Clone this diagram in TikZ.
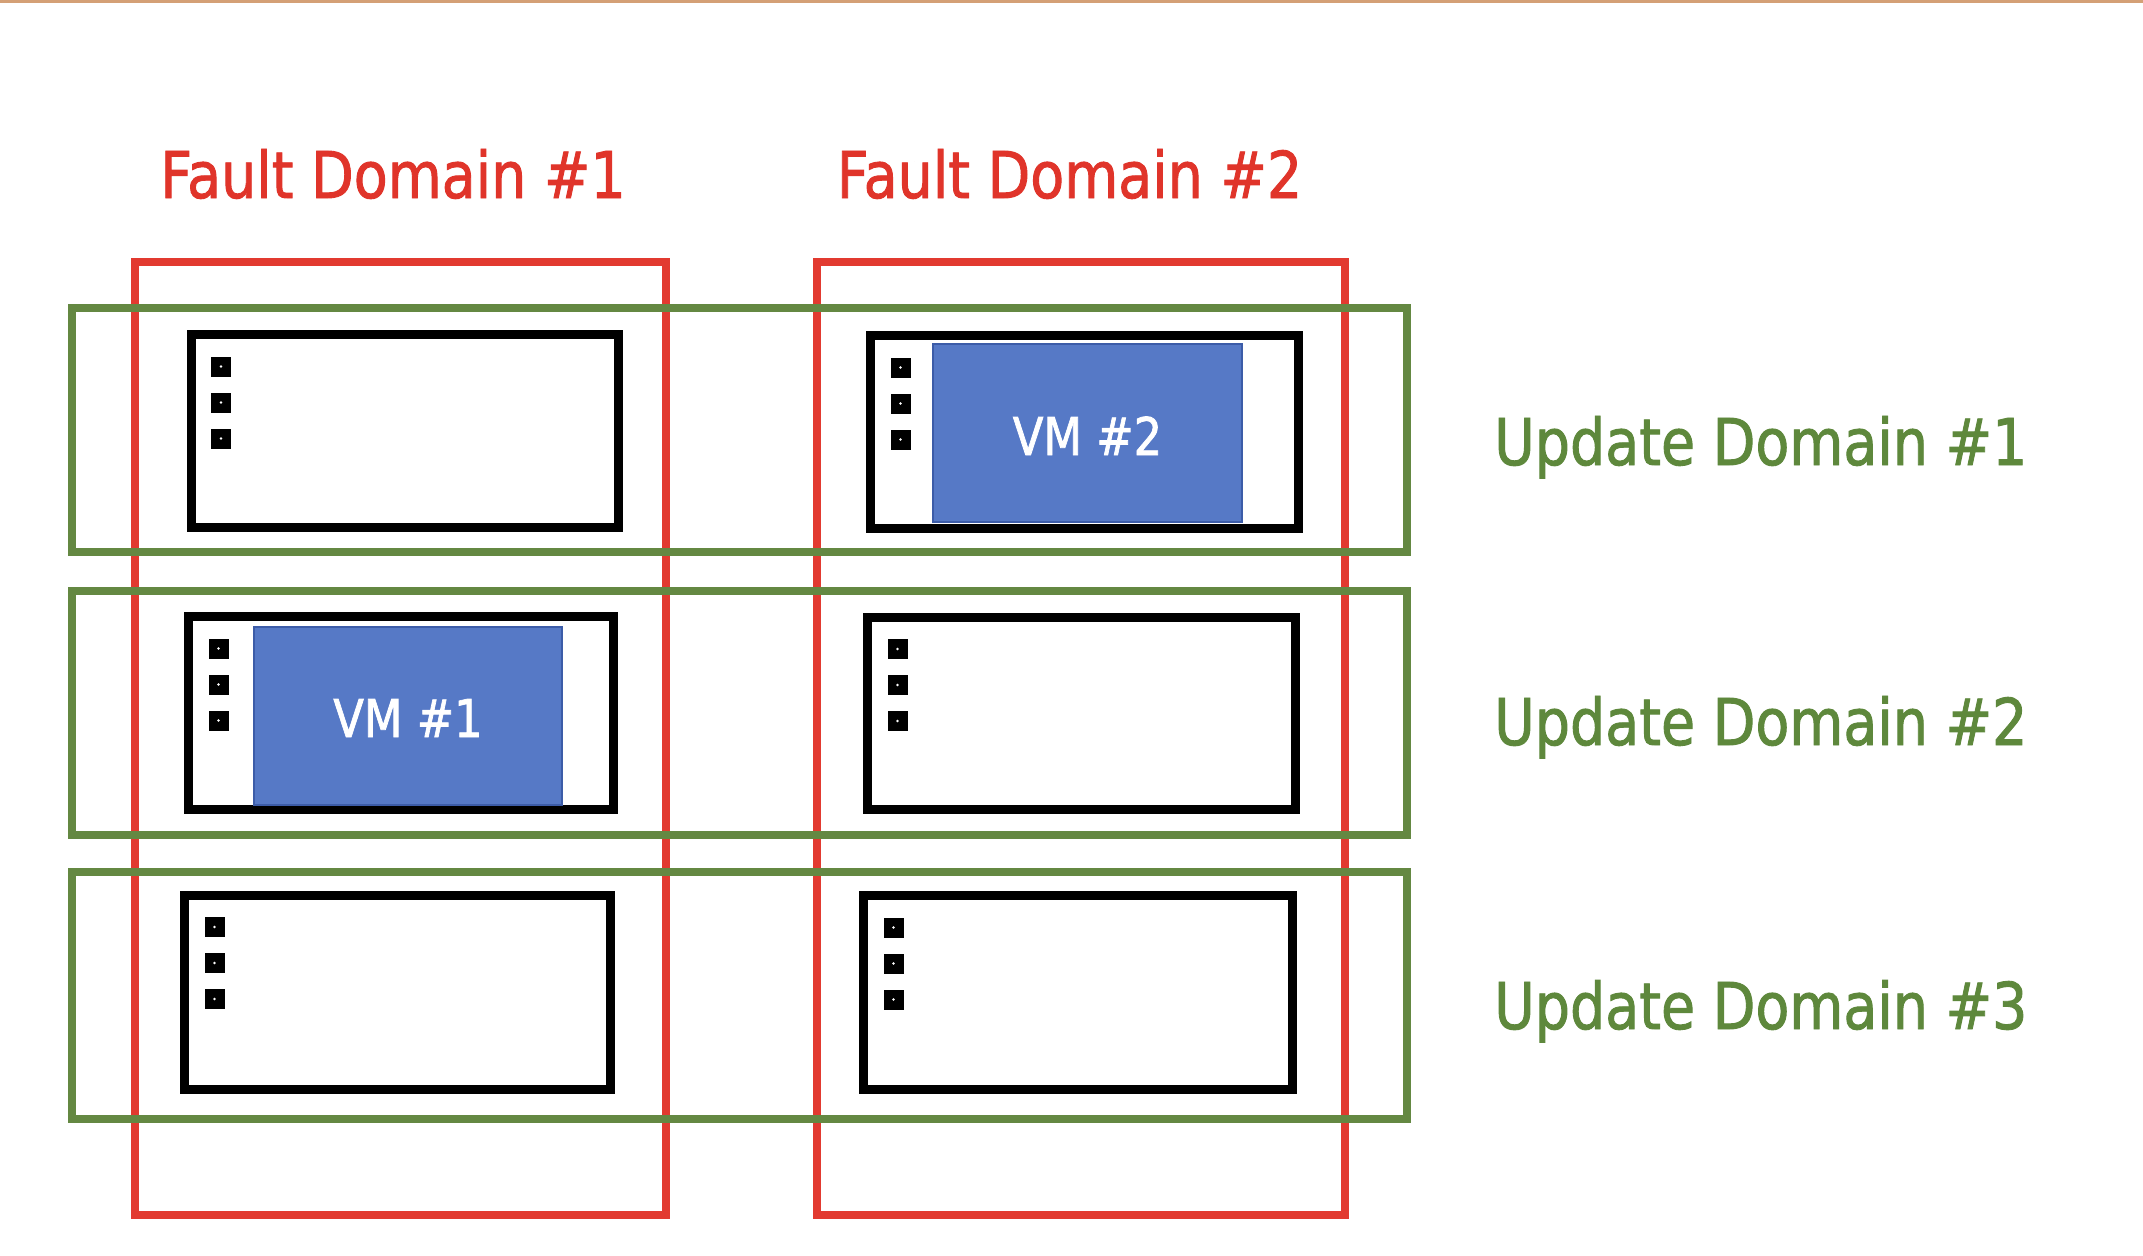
\documentclass[tikz,border=0pt]{standalone}
\usepackage{fontspec}
\setmainfont{DejaVu Sans}[FakeStretch=0.86,FakeBold=1.4]
\definecolor{fdred}{RGB}{224,52,42}
\definecolor{fdline}{RGB}{226,58,48}
\definecolor{udgreen}{RGB}{94,136,60}
\definecolor{udline}{RGB}{100,136,66}
\definecolor{vmblue}{RGB}{86,121,198}
\definecolor{vmedge}{RGB}{60,92,168}
\definecolor{topline}{RGB}{212,160,118}
\begin{document}
\begin{tikzpicture}[x=1pt,y=-1pt,
  faultbox/.style={draw=fdline,line width=8pt},
  updbox/.style={draw=udline,line width=8pt},
  server/.style={draw=black,fill=white,line width=9pt},
  vmbox/.style={fill=vmblue,draw=vmedge,line width=1.5pt},
  led/.style={fill=black,minimum size=20pt,inner sep=0pt,outer sep=0pt},
  faulttext/.style={text=fdred,font=\fontsize{64.5}{70}\selectfont,anchor=base,inner sep=0pt},
  updtext/.style={text=udgreen,font=\fontsize{64.5}{70}\selectfont,anchor=base west,inner sep=0pt},
  vmtext/.style={text=white,font=\fontsize{52}{60}\selectfont,anchor=base,inner sep=0pt}]
\useasboundingbox (0,0) rectangle (2143,1255);
\fill[white] (0,0) rectangle (2143,1255);
\fill[topline] (0,0) rectangle (2143,3);

% fault domain boxes
\draw[faultbox] (134.5,262) rectangle (666,1215);
\draw[faultbox] (817,262) rectangle (1345,1215);
% update domain boxes
\draw[updbox] (71.5,308) rectangle (1407,552);
\draw[updbox] (71.5,591) rectangle (1407,835);
\draw[updbox] (71.5,872) rectangle (1407,1119);

% servers
\newcommand{\serverat}[5]{%
  \draw[server] (#1,#2) rectangle (#3,#4);
  \node[led] (#5a) at ({#1+30},{#2+32}) {};
  \node[led] (#5b) at ({#1+30},{#2+68}) {};
  \node[led] (#5c) at ({#1+30},{#2+104}) {};
  \fill[white] (#5a) circle (1.3pt);
  \fill[white] (#5b) circle (1.3pt);
  \fill[white] (#5c) circle (1.3pt);
}
\serverat{191}{334.5}{618.5}{527.5}{sa}
\serverat{188.5}{616.5}{613.5}{809}{sb}
\serverat{184.5}{895}{610.5}{1089}{sc}
\serverat{870.5}{335.5}{1298.5}{528.5}{sd}
\serverat{867.5}{617}{1295}{809.5}{se}
\serverat{863.5}{895.5}{1292.5}{1089}{sf}

% VMs
\draw[vmbox] (933,344) rectangle (1242,522);
\node[vmtext] (vm2) at (1087.5,455) {VM \#2};
\draw[vmbox] (254,627) rectangle (562,805);
\node[vmtext] (vm1) at (408,737) {VM \#1};

% labels
\node[faulttext] (fd1) at (393,198) {Fault Domain \#1};
\node[faulttext] (fd2) at (1069.5,198) {Fault Domain \#2};
\node[updtext] (ud1) at (1494,465) {Update Domain \#1};
\node[updtext] (ud2) at (1494,745) {Update Domain \#2};
\node[updtext] (ud3) at (1494,1029) {Update Domain \#3};
\end{tikzpicture}
\end{document}
